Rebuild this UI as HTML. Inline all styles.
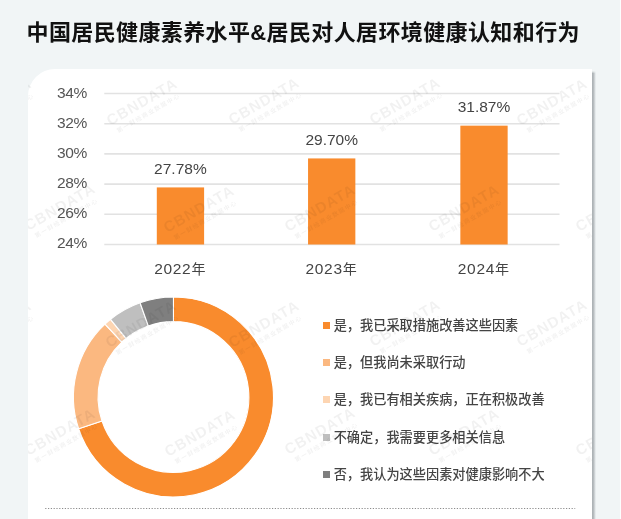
<!DOCTYPE html>
<html lang="zh-CN"><head><meta charset="utf-8"><title>中国居民健康素养水平</title>
<style>
html,body{margin:0;padding:0;background:#f1f5f6}
body{width:621px;height:519px;overflow:hidden;background:#f1f5f6;position:relative;font-family:"Liberation Sans","Noto Sans CJK SC",sans-serif;color:#444}
.title{position:absolute;left:26.5px;top:17px;font-size:22px;line-height:32px;font-weight:bold;color:#111;white-space:nowrap;letter-spacing:0.38px}
.shadow{position:absolute;left:592px;top:71px;width:4px;height:460px;background:linear-gradient(90deg,#a9afb2 0%,#b8bdc0 40%,#e0e5e7 82%,#f1f5f6 100%);-webkit-mask-image:linear-gradient(180deg,transparent 0,#000 2.5px);mask-image:linear-gradient(180deg,transparent 0,#000 2.5px)}
.redge{position:absolute;left:619.7px;top:0;width:1.3px;height:519px;background:#fdfefe}
.card{position:absolute;left:28px;top:69px;width:564px;height:460px;background:#fff;border-radius:27px 0 0 0;overflow:hidden}
.abs{position:absolute;left:0;top:0;width:621px;height:519px;overflow:hidden}
.yl{position:absolute;left:39px;width:48px;text-align:right;font-size:15.5px;line-height:20px;color:#555;letter-spacing:-0.3px}
.vl{position:absolute;width:80px;text-align:center;font-size:15.5px;line-height:20px;color:#444;letter-spacing:0px}
.xl{position:absolute;width:80px;text-align:center;font-size:15.5px;line-height:20px;color:#444;letter-spacing:0.7px}
.xl span{font-size:14px;letter-spacing:0}
.lm{position:absolute;left:322.5px;width:7px;height:7px}
.lt{position:absolute;left:333.7px;font-size:13.2px;line-height:20px;color:#444;white-space:nowrap;font-weight:500}
.wm{position:absolute;width:100px;height:16px;text-align:center;transform:rotate(-30deg);color:#000;opacity:0.05;white-space:nowrap;pointer-events:none}
.wm b{display:block;font-size:15px;line-height:16px;font-weight:bold;letter-spacing:1.0px}
.wm i{position:absolute;left:0;top:17px;width:100%;font-style:normal;font-weight:bold;font-size:6px;line-height:8px;letter-spacing:1.2px}
svg{position:absolute;left:0;top:0}
</style></head><body>
<div class="title">中国居民健康素养水平&amp;居民对人居环境健康认知和行为</div>
<div class="shadow"></div>
<div class="redge"></div>
<div class="card"></div>
<div class="yl" style="top:83px">34%</div>
<div class="yl" style="top:113px">32%</div>
<div class="yl" style="top:143px">30%</div>
<div class="yl" style="top:173px">28%</div>
<div class="yl" style="top:203px">26%</div>
<div class="yl" style="top:233px">24%</div>
<div class="vl" style="left:140.4px;top:158.7px">27.78%</div>
<div class="xl" style="left:139.8px;top:259px">2022<span>年</span></div>
<div class="vl" style="left:291.7px;top:129.7px">29.70%</div>
<div class="xl" style="left:291.1px;top:259px">2023<span>年</span></div>
<div class="vl" style="left:444.0px;top:97.0px">31.87%</div>
<div class="xl" style="left:443.4px;top:259px">2024<span>年</span></div>

<svg width="621" height="519" viewBox="0 0 621 519">
<line x1="104.3" x2="559.5" y1="93.50" y2="93.50" stroke="#e2e2e2" stroke-width="1.6"/>
<line x1="104.3" x2="559.5" y1="123.70" y2="123.70" stroke="#e2e2e2" stroke-width="1.6"/>
<line x1="104.3" x2="559.5" y1="153.90" y2="153.90" stroke="#e2e2e2" stroke-width="1.6"/>
<line x1="104.3" x2="559.5" y1="184.10" y2="184.10" stroke="#e2e2e2" stroke-width="1.6"/>
<line x1="104.3" x2="559.5" y1="214.30" y2="214.30" stroke="#e2e2e2" stroke-width="1.6"/>
<line x1="104.3" x2="559.5" y1="244.50" y2="244.50" stroke="#e2e2e2" stroke-width="1.6"/>
<rect x="156.80" y="187.42" width="47.3" height="57.08" fill="#f98b2d"/>
<rect x="308.05" y="158.43" width="47.3" height="86.07" fill="#f98b2d"/>
<rect x="460.35" y="125.66" width="47.3" height="118.84" fill="#f98b2d"/>
<path d="M173.45 297.00A100.0 100.0 0 1 1 78.62 428.73L101.95 420.92A75.4 75.4 0 1 0 173.45 321.60Z" fill="#f98b2d" stroke="#fff" stroke-width="1.1" stroke-linejoin="round"/>
<path d="M78.62 428.73A100.0 100.0 0 0 1 105.00 324.10L121.84 342.04A75.4 75.4 0 0 0 101.95 420.92Z" fill="#fbb880" stroke="#fff" stroke-width="1.1" stroke-linejoin="round"/>
<path d="M105.00 324.10A100.0 100.0 0 0 1 110.52 319.29L126.00 338.40A75.4 75.4 0 0 0 121.84 342.04Z" fill="#fdd5b2" stroke="#fff" stroke-width="1.1" stroke-linejoin="round"/>
<path d="M110.52 319.29A100.0 100.0 0 0 1 140.07 302.74L148.28 325.92A75.4 75.4 0 0 0 126.00 338.40Z" fill="#bfbfbf" stroke="#fff" stroke-width="1.1" stroke-linejoin="round"/>
<path d="M140.07 302.74A100.0 100.0 0 0 1 173.45 297.00L173.45 321.60A75.4 75.4 0 0 0 148.28 325.92Z" fill="#7f7f7f" stroke="#fff" stroke-width="1.1" stroke-linejoin="round"/>
<line x1="45.2" x2="575.2" y1="508.5" y2="508.5" stroke="#8c8c8c" stroke-width="1.2" stroke-dasharray="1.2 1.6"/>
</svg>
<div class="lm" style="top:321.6px;background:#f98b2d"></div><div class="lt" style="top:315.7px">是，我已采取措施改善这些因素</div>
<div class="lm" style="top:358.9px;background:#fbb880"></div><div class="lt" style="top:353.0px">是，但我尚未采取行动</div>
<div class="lm" style="top:396.2px;background:#fdd5b2"></div><div class="lt" style="top:390.3px">是，我已有相关疾病，正在积极改善</div>
<div class="lm" style="top:433.5px;background:#bfbfbf"></div><div class="lt" style="top:427.6px">不确定，我需要更多相关信息</div>
<div class="lm" style="top:470.8px;background:#7f7f7f"></div><div class="lt" style="top:464.9px">否，我认为这些因素对健康影响不大</div>

<div class="abs" style="clip-path:inset(69px 29px 0 28px)">
<div class="wm" style="left:-54.0px;top:94.0px"><b>CBNDATA</b><i>第一财经商业数据中心</i></div>
<div class="wm" style="left:92.0px;top:94.0px"><b>CBNDATA</b><i>第一财经商业数据中心</i></div>
<div class="wm" style="left:214.0px;top:93.0px"><b>CBNDATA</b><i>第一财经商业数据中心</i></div>
<div class="wm" style="left:355.0px;top:93.0px"><b>CBNDATA</b><i>第一财经商业数据中心</i></div>
<div class="wm" style="left:501.5px;top:94.0px"><b>CBNDATA</b><i>第一财经商业数据中心</i></div>
<div class="wm" style="left:10.0px;top:199.0px"><b>CBNDATA</b><i>第一财经商业数据中心</i></div>
<div class="wm" style="left:149.0px;top:200.5px"><b>CBNDATA</b><i>第一财经商业数据中心</i></div>
<div class="wm" style="left:270.0px;top:199.5px"><b>CBNDATA</b><i>第一财经商业数据中心</i></div>
<div class="wm" style="left:414.0px;top:200.0px"><b>CBNDATA</b><i>第一财经商业数据中心</i></div>
<div class="wm" style="left:561.0px;top:200.0px"><b>CBNDATA</b><i>第一财经商业数据中心</i></div>
<div class="wm" style="left:-54.0px;top:315.5px"><b>CBNDATA</b><i>第一财经商业数据中心</i></div>
<div class="wm" style="left:91.0px;top:315.5px"><b>CBNDATA</b><i>第一财经商业数据中心</i></div>
<div class="wm" style="left:214.0px;top:315.5px"><b>CBNDATA</b><i>第一财经商业数据中心</i></div>
<div class="wm" style="left:355.0px;top:315.0px"><b>CBNDATA</b><i>第一财经商业数据中心</i></div>
<div class="wm" style="left:501.5px;top:315.0px"><b>CBNDATA</b><i>第一财经商业数据中心</i></div>
<div class="wm" style="left:10.0px;top:424.0px"><b>CBNDATA</b><i>第一财经商业数据中心</i></div>
<div class="wm" style="left:150.0px;top:425.0px"><b>CBNDATA</b><i>第一财经商业数据中心</i></div>
<div class="wm" style="left:270.0px;top:423.0px"><b>CBNDATA</b><i>第一财经商业数据中心</i></div>
<div class="wm" style="left:414.0px;top:424.0px"><b>CBNDATA</b><i>第一财经商业数据中心</i></div>
<div class="wm" style="left:561.0px;top:424.0px"><b>CBNDATA</b><i>第一财经商业数据中心</i></div>
</div>
</body></html>
